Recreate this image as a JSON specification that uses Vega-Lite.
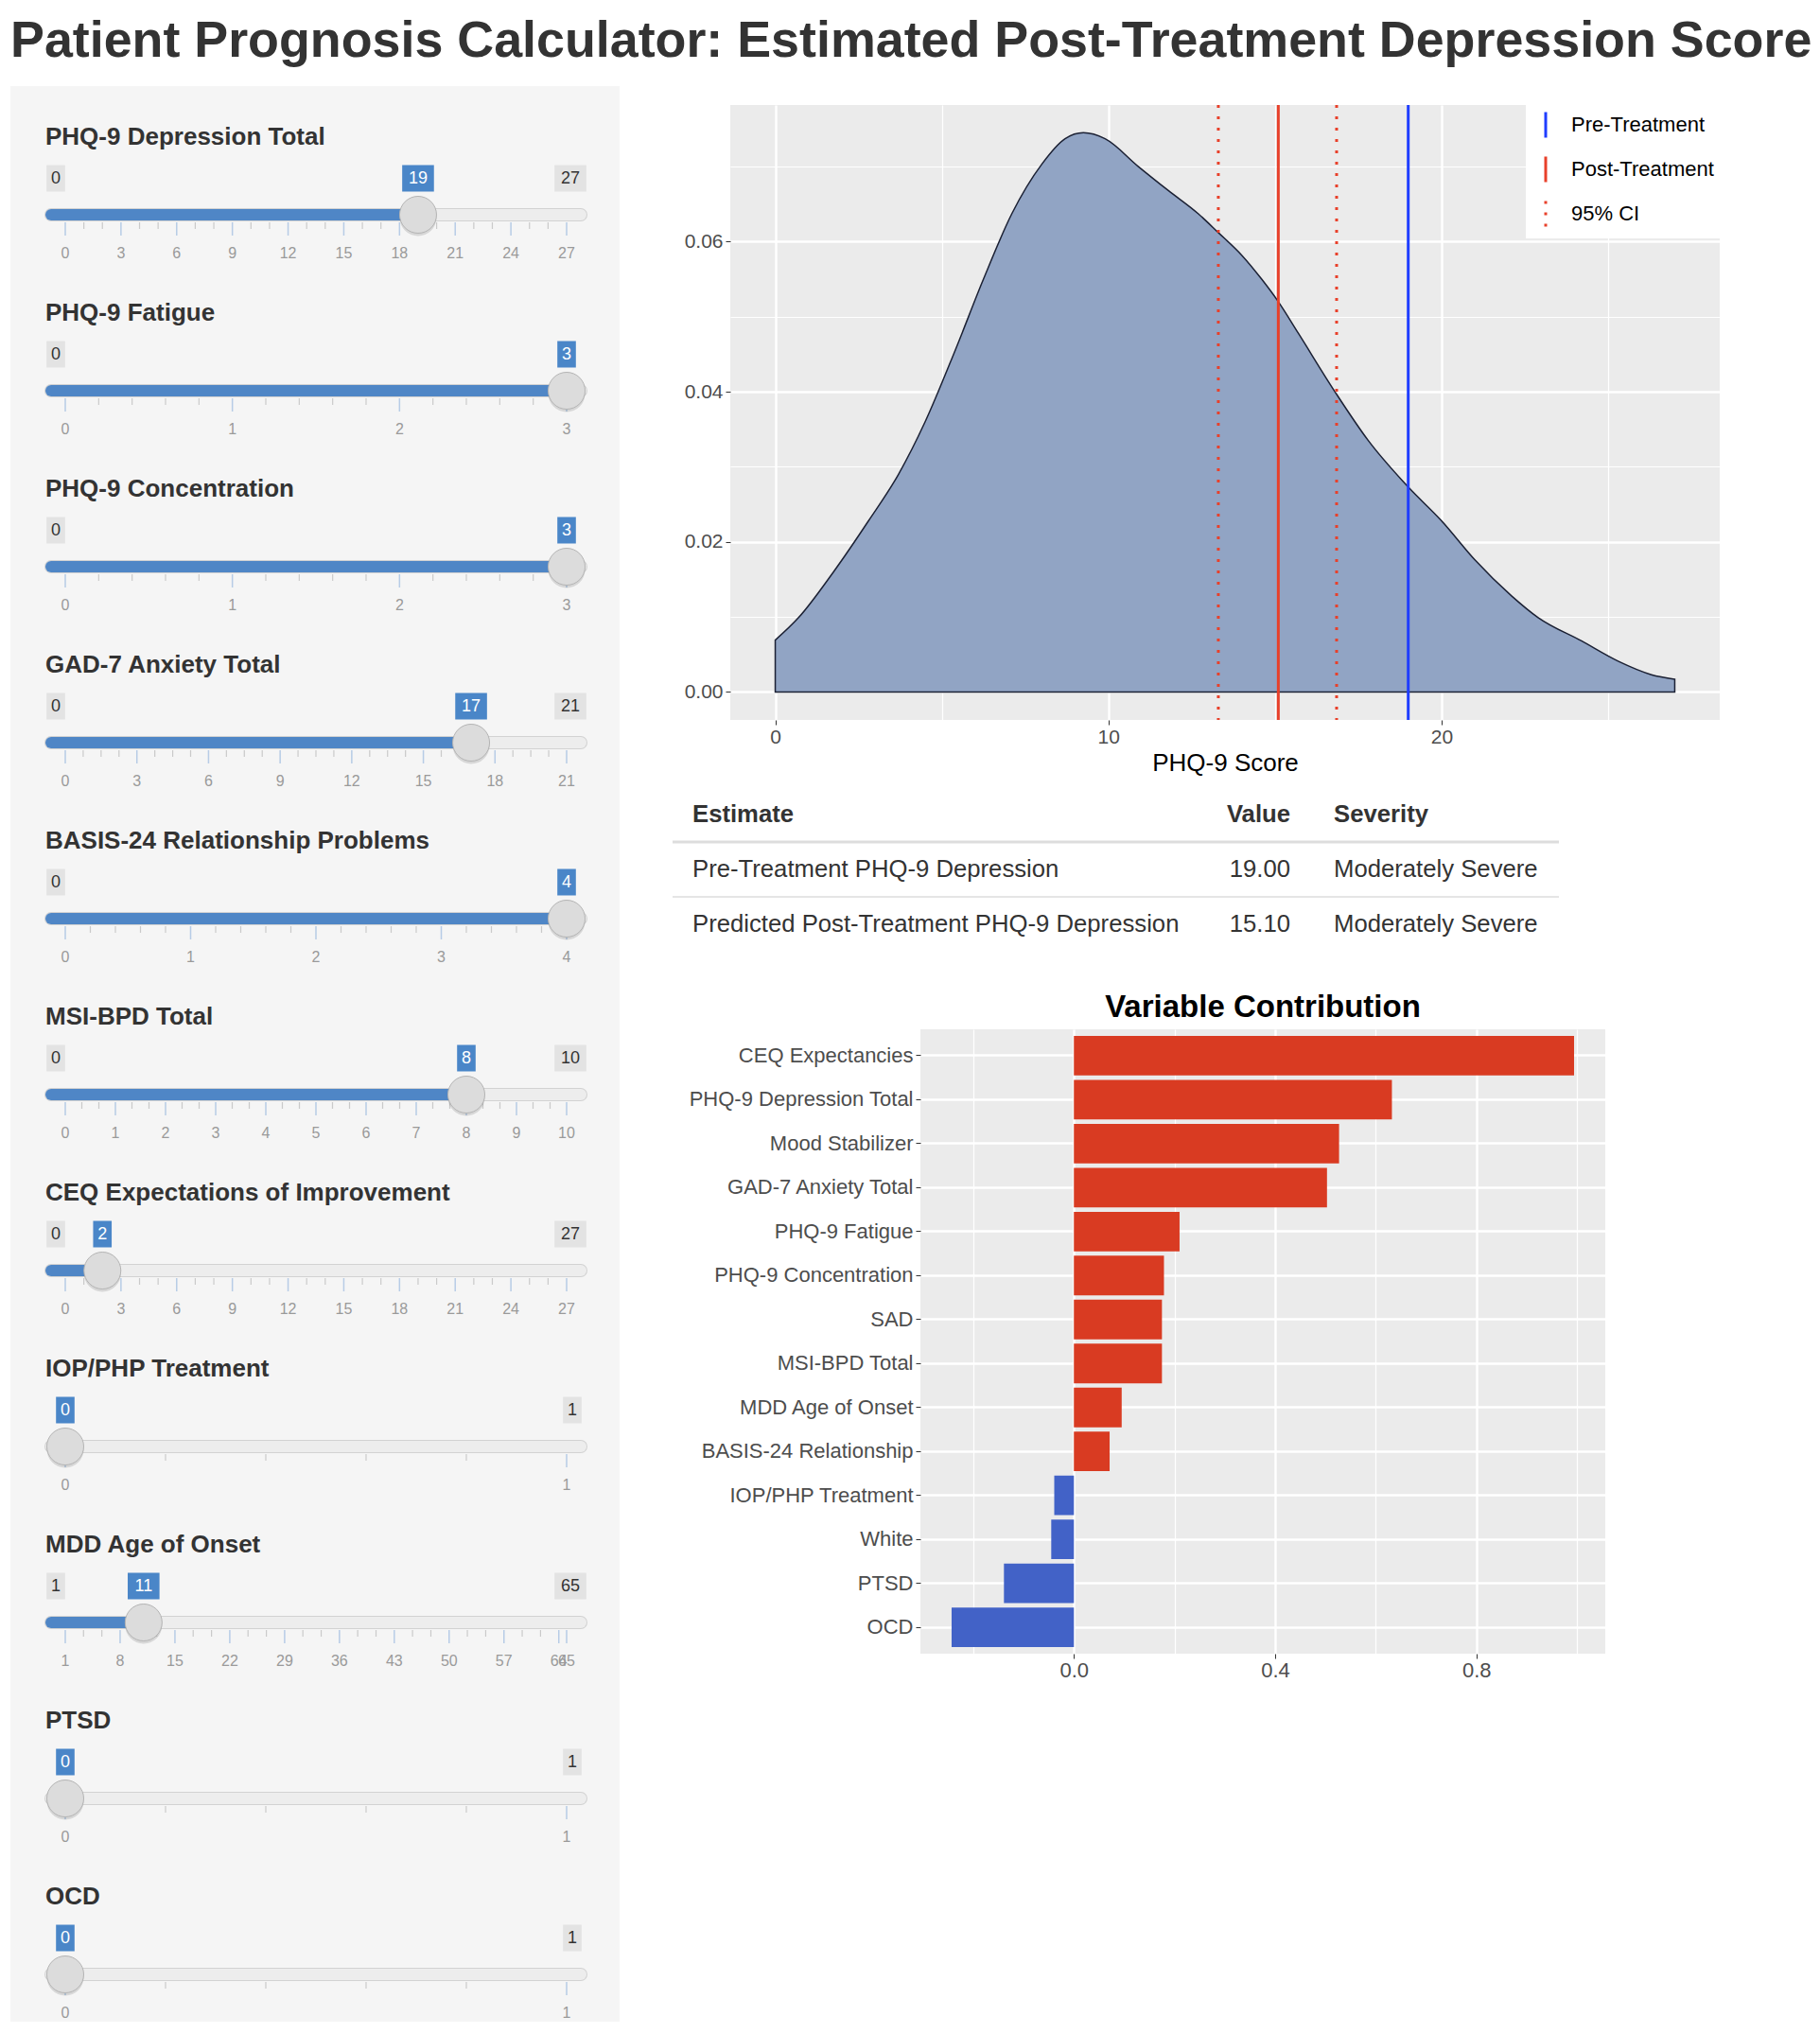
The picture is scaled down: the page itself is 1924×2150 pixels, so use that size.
{
  "$schema": "https://vega.github.io/schema/vega-lite/v6.json",
  "background": "white",
  "padding": {"left": 11, "top": 16, "right": 10, "bottom": 0},
  "title": {"text": "Patient Prognosis Calculator: Estimated Post-Treatment Depression Score", "anchor": "start", "frame": "group", "fontSize": 53.8, "fontWeight": "bold", "font": "Liberation Sans", "color": "#333333", "offset": 18},
  "config": {"view": {"stroke": null}, "font": "Liberation Sans"},
  "datasets": {
    "sl": [
      {"id": "s01", "k": "s", "s": "PHQ-9 Depression Total", "min": 0, "max": 27, "value": 19},
      {"id": "s02", "k": "s", "s": "PHQ-9 Fatigue", "min": 0, "max": 3, "value": 3},
      {"id": "s03", "k": "s", "s": "PHQ-9 Concentration", "min": 0, "max": 3, "value": 3},
      {"id": "s04", "k": "s", "s": "GAD-7 Anxiety Total", "min": 0, "max": 21, "value": 17},
      {"id": "s05", "k": "s", "s": "BASIS-24 Relationship Problems", "min": 0, "max": 4, "value": 4},
      {"id": "s06", "k": "s", "s": "MSI-BPD Total", "min": 0, "max": 10, "value": 8},
      {"id": "s07", "k": "s", "s": "CEQ Expectations of Improvement", "min": 0, "max": 27, "value": 2},
      {"id": "s08", "k": "s", "s": "IOP/PHP Treatment", "min": 0, "max": 1, "value": 0},
      {"id": "s09", "k": "s", "s": "MDD Age of Onset", "min": 1, "max": 65, "value": 11},
      {"id": "s10", "k": "s", "s": "PTSD", "min": 0, "max": 1, "value": 0},
      {"id": "s11", "k": "s", "s": "OCD", "min": 0, "max": 1, "value": 0},
      {"id":"s01","k":"M","v":0},{"id":"s01","k":"M","v":3},{"id":"s01","k":"M","v":6},{"id":"s01","k":"M","v":9},{"id":"s01","k":"M","v":12},{"id":"s01","k":"M","v":15},{"id":"s01","k":"M","v":18},{"id":"s01","k":"M","v":21},{"id":"s01","k":"M","v":24},{"id":"s01","k":"M","v":27},
      {"id":"s01","k":"m","v":1},{"id":"s01","k":"m","v":2},{"id":"s01","k":"m","v":4},{"id":"s01","k":"m","v":5},{"id":"s01","k":"m","v":7},{"id":"s01","k":"m","v":8},{"id":"s01","k":"m","v":10},{"id":"s01","k":"m","v":11},{"id":"s01","k":"m","v":13},{"id":"s01","k":"m","v":14},{"id":"s01","k":"m","v":16},{"id":"s01","k":"m","v":17},{"id":"s01","k":"m","v":19},{"id":"s01","k":"m","v":20},{"id":"s01","k":"m","v":22},{"id":"s01","k":"m","v":23},{"id":"s01","k":"m","v":25},{"id":"s01","k":"m","v":26},
      {"id":"s02","k":"M","v":0},{"id":"s02","k":"M","v":1},{"id":"s02","k":"M","v":2},{"id":"s02","k":"M","v":3},
      {"id":"s02","k":"m","v":0.2},{"id":"s02","k":"m","v":0.4},{"id":"s02","k":"m","v":0.6},{"id":"s02","k":"m","v":0.8},{"id":"s02","k":"m","v":1.2},{"id":"s02","k":"m","v":1.4},{"id":"s02","k":"m","v":1.6},{"id":"s02","k":"m","v":1.8},{"id":"s02","k":"m","v":2.2},{"id":"s02","k":"m","v":2.4},{"id":"s02","k":"m","v":2.6},{"id":"s02","k":"m","v":2.8},
      {"id":"s03","k":"M","v":0},{"id":"s03","k":"M","v":1},{"id":"s03","k":"M","v":2},{"id":"s03","k":"M","v":3},
      {"id":"s03","k":"m","v":0.2},{"id":"s03","k":"m","v":0.4},{"id":"s03","k":"m","v":0.6},{"id":"s03","k":"m","v":0.8},{"id":"s03","k":"m","v":1.2},{"id":"s03","k":"m","v":1.4},{"id":"s03","k":"m","v":1.6},{"id":"s03","k":"m","v":1.8},{"id":"s03","k":"m","v":2.2},{"id":"s03","k":"m","v":2.4},{"id":"s03","k":"m","v":2.6},{"id":"s03","k":"m","v":2.8},
      {"id":"s04","k":"M","v":0},{"id":"s04","k":"M","v":3},{"id":"s04","k":"M","v":6},{"id":"s04","k":"M","v":9},{"id":"s04","k":"M","v":12},{"id":"s04","k":"M","v":15},{"id":"s04","k":"M","v":18},{"id":"s04","k":"M","v":21},
      {"id":"s04","k":"m","v":0.75},{"id":"s04","k":"m","v":1.5},{"id":"s04","k":"m","v":2.25},{"id":"s04","k":"m","v":3.75},{"id":"s04","k":"m","v":4.5},{"id":"s04","k":"m","v":5.25},{"id":"s04","k":"m","v":6.75},{"id":"s04","k":"m","v":7.5},{"id":"s04","k":"m","v":8.25},{"id":"s04","k":"m","v":9.75},{"id":"s04","k":"m","v":10.5},{"id":"s04","k":"m","v":11.25},{"id":"s04","k":"m","v":12.75},{"id":"s04","k":"m","v":13.5},{"id":"s04","k":"m","v":14.25},{"id":"s04","k":"m","v":15.75},{"id":"s04","k":"m","v":16.5},{"id":"s04","k":"m","v":17.25},{"id":"s04","k":"m","v":18.75},{"id":"s04","k":"m","v":19.5},{"id":"s04","k":"m","v":20.25},
      {"id":"s05","k":"M","v":0},{"id":"s05","k":"M","v":1},{"id":"s05","k":"M","v":2},{"id":"s05","k":"M","v":3},{"id":"s05","k":"M","v":4},
      {"id":"s05","k":"m","v":0.2},{"id":"s05","k":"m","v":0.4},{"id":"s05","k":"m","v":0.6},{"id":"s05","k":"m","v":0.8},{"id":"s05","k":"m","v":1.2},{"id":"s05","k":"m","v":1.4},{"id":"s05","k":"m","v":1.6},{"id":"s05","k":"m","v":1.8},{"id":"s05","k":"m","v":2.2},{"id":"s05","k":"m","v":2.4},{"id":"s05","k":"m","v":2.6},{"id":"s05","k":"m","v":2.8},{"id":"s05","k":"m","v":3.2},{"id":"s05","k":"m","v":3.4},{"id":"s05","k":"m","v":3.6},{"id":"s05","k":"m","v":3.8},
      {"id":"s06","k":"M","v":0},{"id":"s06","k":"M","v":1},{"id":"s06","k":"M","v":2},{"id":"s06","k":"M","v":3},{"id":"s06","k":"M","v":4},{"id":"s06","k":"M","v":5},{"id":"s06","k":"M","v":6},{"id":"s06","k":"M","v":7},{"id":"s06","k":"M","v":8},{"id":"s06","k":"M","v":9},{"id":"s06","k":"M","v":10},
      {"id":"s06","k":"m","v":0.33},{"id":"s06","k":"m","v":0.67},{"id":"s06","k":"m","v":1.33},{"id":"s06","k":"m","v":1.67},{"id":"s06","k":"m","v":2.33},{"id":"s06","k":"m","v":2.67},{"id":"s06","k":"m","v":3.33},{"id":"s06","k":"m","v":3.67},{"id":"s06","k":"m","v":4.33},{"id":"s06","k":"m","v":4.67},{"id":"s06","k":"m","v":5.33},{"id":"s06","k":"m","v":5.67},{"id":"s06","k":"m","v":6.33},{"id":"s06","k":"m","v":6.67},{"id":"s06","k":"m","v":7.33},{"id":"s06","k":"m","v":7.67},{"id":"s06","k":"m","v":8.33},{"id":"s06","k":"m","v":8.67},{"id":"s06","k":"m","v":9.33},{"id":"s06","k":"m","v":9.67},
      {"id":"s07","k":"M","v":0},{"id":"s07","k":"M","v":3},{"id":"s07","k":"M","v":6},{"id":"s07","k":"M","v":9},{"id":"s07","k":"M","v":12},{"id":"s07","k":"M","v":15},{"id":"s07","k":"M","v":18},{"id":"s07","k":"M","v":21},{"id":"s07","k":"M","v":24},{"id":"s07","k":"M","v":27},
      {"id":"s07","k":"m","v":1},{"id":"s07","k":"m","v":2},{"id":"s07","k":"m","v":4},{"id":"s07","k":"m","v":5},{"id":"s07","k":"m","v":7},{"id":"s07","k":"m","v":8},{"id":"s07","k":"m","v":10},{"id":"s07","k":"m","v":11},{"id":"s07","k":"m","v":13},{"id":"s07","k":"m","v":14},{"id":"s07","k":"m","v":16},{"id":"s07","k":"m","v":17},{"id":"s07","k":"m","v":19},{"id":"s07","k":"m","v":20},{"id":"s07","k":"m","v":22},{"id":"s07","k":"m","v":23},{"id":"s07","k":"m","v":25},{"id":"s07","k":"m","v":26},
      {"id":"s08","k":"M","v":0},{"id":"s08","k":"M","v":1},
      {"id":"s08","k":"m","v":0.2},{"id":"s08","k":"m","v":0.4},{"id":"s08","k":"m","v":0.6},{"id":"s08","k":"m","v":0.8},
      {"id":"s09","k":"M","v":1},{"id":"s09","k":"M","v":8},{"id":"s09","k":"M","v":15},{"id":"s09","k":"M","v":22},{"id":"s09","k":"M","v":29},{"id":"s09","k":"M","v":36},{"id":"s09","k":"M","v":43},{"id":"s09","k":"M","v":50},{"id":"s09","k":"M","v":57},{"id":"s09","k":"M","v":64},{"id":"s09","k":"M","v":65},
      {"id":"s09","k":"m","v":3.33},{"id":"s09","k":"m","v":5.67},{"id":"s09","k":"m","v":10.33},{"id":"s09","k":"m","v":12.67},{"id":"s09","k":"m","v":17.33},{"id":"s09","k":"m","v":19.67},{"id":"s09","k":"m","v":24.33},{"id":"s09","k":"m","v":26.67},{"id":"s09","k":"m","v":31.33},{"id":"s09","k":"m","v":33.67},{"id":"s09","k":"m","v":38.33},{"id":"s09","k":"m","v":40.67},{"id":"s09","k":"m","v":45.33},{"id":"s09","k":"m","v":47.67},{"id":"s09","k":"m","v":52.33},{"id":"s09","k":"m","v":54.67},{"id":"s09","k":"m","v":59.33},{"id":"s09","k":"m","v":61.67},
      {"id":"s10","k":"M","v":0},{"id":"s10","k":"M","v":1},
      {"id":"s10","k":"m","v":0.2},{"id":"s10","k":"m","v":0.4},{"id":"s10","k":"m","v":0.6},{"id":"s10","k":"m","v":0.8},
      {"id":"s11","k":"M","v":0},{"id":"s11","k":"M","v":1},
      {"id":"s11","k":"m","v":0.2},{"id":"s11","k":"m","v":0.4},{"id":"s11","k":"m","v":0.6},{"id":"s11","k":"m","v":0.8}
    ],
    "dens": [
      {"x": 0, "d": 0.0069}, {"x": 0.7, "d": 0.0099}, {"x": 1.75, "d": 0.016}, {"x": 2.8, "d": 0.0228},
      {"x": 3.7, "d": 0.029}, {"x": 4.5, "d": 0.036}, {"x": 5.4, "d": 0.0455}, {"x": 6.25, "d": 0.055},
      {"x": 7.1, "d": 0.0637}, {"x": 8.0, "d": 0.0703}, {"x": 8.7, "d": 0.0737}, {"x": 9.25, "d": 0.0745},
      {"x": 9.9, "d": 0.0737}, {"x": 10.9, "d": 0.07}, {"x": 11.8, "d": 0.0668}, {"x": 12.7, "d": 0.0637},
      {"x": 13.3, "d": 0.0612}, {"x": 14.0, "d": 0.0582}, {"x": 14.6, "d": 0.055}, {"x": 15.1, "d": 0.052},
      {"x": 15.7, "d": 0.0478}, {"x": 16.8, "d": 0.04}, {"x": 17.8, "d": 0.0335}, {"x": 19.0, "d": 0.0273},
      {"x": 20.0, "d": 0.0228}, {"x": 21.0, "d": 0.0176}, {"x": 22.1, "d": 0.0128}, {"x": 22.9, "d": 0.0099},
      {"x": 24.2, "d": 0.0068}, {"x": 25.3, "d": 0.0041}, {"x": 26.3, "d": 0.0023}, {"x": 27.0, "d": 0.0017}
    ],
    "vlines": [
      {"line": "Pre-Treatment", "x": 19},
      {"line": "Post-Treatment", "x": 15.1},
      {"line": "95% CI", "x": 13.3},
      {"line": "95% CI", "x": 16.85}
    ],
    "tbl": [
      {"r": "h", "col": "Estimate", "t": "Estimate"},
      {"r": "h", "col": "Value", "t": "Value"},
      {"r": "h", "col": "Severity", "t": "Severity"},
      {"r": "1", "col": "Estimate", "t": "Pre-Treatment PHQ-9 Depression"},
      {"r": "1", "col": "Value", "t": "19.00"},
      {"r": "1", "col": "Severity", "t": "Moderately Severe"},
      {"r": "2", "col": "Estimate", "t": "Predicted Post-Treatment PHQ-9 Depression"},
      {"r": "2", "col": "Value", "t": "15.10"},
      {"r": "2", "col": "Severity", "t": "Moderately Severe"}
    ],
    "contrib": [
      {"v": "CEQ Expectancies", "c": 0.994},
      {"v": "PHQ-9 Depression Total", "c": 0.632},
      {"v": "Mood Stabilizer", "c": 0.527},
      {"v": "GAD-7 Anxiety Total", "c": 0.503},
      {"v": "PHQ-9 Fatigue", "c": 0.21},
      {"v": "PHQ-9 Concentration", "c": 0.179},
      {"v": "SAD", "c": 0.175},
      {"v": "MSI-BPD Total", "c": 0.175},
      {"v": "MDD Age of Onset", "c": 0.095},
      {"v": "BASIS-24 Relationship", "c": 0.071},
      {"v": "IOP/PHP Treatment", "c": -0.039},
      {"v": "White", "c": -0.045},
      {"v": "PTSD", "c": -0.139},
      {"v": "OCD", "c": -0.243}
    ]
  },
  "spacing": 53,
  "resolve": {"scale": {"color": "independent", "strokeDash": "independent"}, "legend": {"color": "independent", "strokeDash": "independent"}},
  "hconcat": [
    {
      "data": {"name": "sl"},
      "facet": {"row": {"field": "id", "type": "nominal", "header": {"labels": false, "title": null}}},
      "spacing": {"row": 0},
      "resolve": {"scale": {"x": "independent"}},
      "spec": {
        "width": 644,
        "height": 186,
        "view": {"fill": "#f5f5f5", "stroke": null},
        "layer": [
          {"transform": [{"filter": "datum.k == 's'"}],
           "mark": {"type": "rule", "strokeWidth": 14, "strokeCap": "round", "color": "#d2d2d2", "yOffset": 43, "xOffset": -15, "x2Offset": 15},
           "encoding": {"x": {"field": "min", "type": "quantitative", "scale": {"range": [58, 588], "zero": false, "nice": false}, "axis": null}, "x2": {"field": "max"}}},
          {"transform": [{"filter": "datum.k == 's'"}],
           "mark": {"type": "rule", "strokeWidth": 12, "strokeCap": "round", "color": "#ededed", "yOffset": 43, "xOffset": -15, "x2Offset": 15},
           "encoding": {"x": {"field": "min", "type": "quantitative"}, "x2": {"field": "max"}}},
          {"transform": [{"filter": "datum.k == 's' && datum.value > datum.min"}],
           "mark": {"type": "rule", "strokeWidth": 12, "strokeCap": "round", "color": "#4f86c6", "yOffset": 43, "xOffset": -15},
           "encoding": {"x": {"field": "min", "type": "quantitative"}, "x2": {"field": "value"}}},
          {"transform": [{"filter": "datum.k == 'M'"}],
           "mark": {"type": "tick", "size": 14, "thickness": 1.5, "color": "#9dbbe0", "yOffset": 58},
           "encoding": {"x": {"field": "v", "type": "quantitative"}}},
          {"transform": [{"filter": "datum.k == 'm'"}],
           "mark": {"type": "tick", "size": 7, "thickness": 1.2, "color": "#b8b8b8", "yOffset": 54.5},
           "encoding": {"x": {"field": "v", "type": "quantitative"}}},
          {"transform": [{"filter": "datum.k == 'M'"}],
           "mark": {"type": "text", "fontSize": 16, "color": "#9a9a9a", "yOffset": 84, "baseline": "middle"},
           "encoding": {"x": {"field": "v", "type": "quantitative"}, "text": {"field": "v", "type": "quantitative"}}},
          {"transform": [{"filter": "datum.k == 's'"}],
           "mark": {"type": "point", "shape": "circle", "size": 1521, "filled": true, "color": "#000000", "opacity": 0.12, "yOffset": 46},
           "encoding": {"x": {"field": "value", "type": "quantitative"}}},
          {"transform": [{"filter": "datum.k == 's'"}],
           "mark": {"type": "point", "shape": "circle", "size": 1521, "filled": true, "fill": "#dcdcdc", "stroke": "#b4b4b4", "strokeWidth": 1, "opacity": 1, "yOffset": 43},
           "encoding": {"x": {"field": "value", "type": "quantitative"}}},
          {"transform": [{"filter": "datum.k == 's' && datum.value >= 10"}],
           "mark": {"type": "point", "size": 784, "filled": true, "color": "#4a86c8", "opacity": 1, "yOffset": 4.5, "shape": "M-1.2,-1H1.2V1H-1.2Z"},
           "encoding": {"x": {"field": "value", "type": "quantitative"}}},
          {"transform": [{"filter": "datum.k == 's' && datum.value < 10"}],
           "mark": {"type": "point", "size": 784, "filled": true, "color": "#4a86c8", "opacity": 1, "yOffset": 4.5, "shape": "M-0.7,-1H0.7V1H-0.7Z"},
           "encoding": {"x": {"field": "value", "type": "quantitative"}}},
          {"transform": [{"filter": "datum.k == 's'"}],
           "mark": {"type": "text", "fontSize": 18, "color": "white", "yOffset": 4.5, "baseline": "middle"},
           "encoding": {"x": {"field": "value", "type": "quantitative"}, "text": {"field": "value", "type": "quantitative"}}},
          {"transform": [{"filter": "datum.k == 's' && datum.value != datum.min"}],
           "mark": {"type": "point", "size": 784, "filled": true, "color": "#e3e3e3", "opacity": 1, "yOffset": 4.5, "xOffset": -10, "shape": "M-0.7,-1H0.7V1H-0.7Z"},
           "encoding": {"x": {"field": "min", "type": "quantitative"}}},
          {"transform": [{"filter": "datum.k == 's' && datum.value != datum.min"}],
           "mark": {"type": "text", "fontSize": 18, "color": "#333333", "yOffset": 4.5, "xOffset": -10, "baseline": "middle"},
           "encoding": {"x": {"field": "min", "type": "quantitative"}, "text": {"field": "min", "type": "quantitative"}}},
          {"transform": [{"filter": "datum.k == 's' && datum.value != datum.max && datum.max >= 10"}],
           "mark": {"type": "point", "size": 784, "filled": true, "color": "#e3e3e3", "opacity": 1, "yOffset": 4.5, "xOffset": 4, "shape": "M-1.2,-1H1.2V1H-1.2Z"},
           "encoding": {"x": {"field": "max", "type": "quantitative"}}},
          {"transform": [{"filter": "datum.k == 's' && datum.value != datum.max && datum.max < 10"}],
           "mark": {"type": "point", "size": 784, "filled": true, "color": "#e3e3e3", "opacity": 1, "yOffset": 4.5, "xOffset": 6, "shape": "M-0.7,-1H0.7V1H-0.7Z"},
           "encoding": {"x": {"field": "max", "type": "quantitative"}}},
          {"transform": [{"filter": "datum.k == 's' && datum.value != datum.max && datum.max >= 10"}],
           "mark": {"type": "text", "fontSize": 18, "color": "#333333", "yOffset": 4.5, "xOffset": 4, "baseline": "middle"},
           "encoding": {"x": {"field": "max", "type": "quantitative"}, "text": {"field": "max", "type": "quantitative"}}},
          {"transform": [{"filter": "datum.k == 's' && datum.value != datum.max && datum.max < 10"}],
           "mark": {"type": "text", "fontSize": 18, "color": "#333333", "yOffset": 4.5, "xOffset": 6, "baseline": "middle"},
           "encoding": {"x": {"field": "max", "type": "quantitative"}, "text": {"field": "max", "type": "quantitative"}}},
          {"transform": [{"filter": "datum.k == 's'"}],
           "mark": {"type": "text", "fontSize": 26, "fontWeight": "bold", "color": "#333333", "align": "left", "baseline": "middle", "yOffset": -39, "xOffset": -21},
           "encoding": {"x": {"field": "min", "type": "quantitative"}, "text": {"field": "s"}}}
        ]
      }
    },
    {
      "spacing": 13,
      "resolve": {"scale": {"color": "independent", "strokeDash": "independent"}, "legend": {"color": "independent", "strokeDash": "independent"}},
      "vconcat": [
        {"width": 1, "height": 1, "data": {"values": [{}]}, "mark": {"type": "point", "opacity": 0}, "encoding": {}},
        {
          "spacing": 0,
          "resolve": {"scale": {"color": "independent", "strokeDash": "independent"}, "legend": {"color": "independent", "strokeDash": "independent"}},
          "hconcat": [
            {"width": 1, "height": 1, "data": {"values": [{}]}, "mark": {"type": "point", "opacity": 0}, "encoding": {}},
            {
              "width": 1046,
              "height": 650,
              "view": {"fill": "#ebebeb", "stroke": null},
              "layer": [
                {"data": {"name": "dens"},
                 "mark": {"type": "area", "interpolate": "monotone", "fill": "#91a4c4", "fillOpacity": 1, "stroke": "#1b2033", "strokeWidth": 1.5},
                 "encoding": {
                   "x": {"field": "x", "type": "quantitative", "title": "PHQ-9 Score",
                         "scale": {"domain": [-1.35, 28.35], "nice": false, "zero": false},
                         "axis": {"values": [0, 5, 10, 15, 20, 25], "labelExpr": "datum.value % 10 == 0 ? datum.label : ''", "grid": true, "gridColor": "white",
                                  "gridWidth": {"condition": {"test": "datum.value % 10 == 0", "value": 2.4}, "value": 1.2},
                                  "tickOpacity": {"condition": {"test": "datum.value % 10 == 0", "value": 1}, "value": 0},
                                  "domain": false, "tickColor": "#333333", "tickSize": 5, "labelColor": "#4d4d4d", "labelFontSize": 21, "labelPadding": 2,
                                  "titleFontSize": 26, "titleColor": "black", "titleFontWeight": "normal", "titlePadding": 4}},
                   "y": {"field": "d", "type": "quantitative", "title": null,
                         "scale": {"domain": [-0.00373, 0.0782], "nice": false, "zero": false},
                         "axis": {"values": [0, 0.01, 0.02, 0.03, 0.04, 0.05, 0.06, 0.07], "format": ".2f",
                                  "labelExpr": "round(datum.value * 100) % 2 == 0 ? datum.label : ''", "grid": true, "gridColor": "white",
                                  "gridWidth": {"condition": {"test": "round(datum.value * 100) % 2 == 0", "value": 2.4}, "value": 1.2},
                                  "tickOpacity": {"condition": {"test": "round(datum.value * 100) % 2 == 0", "value": 1}, "value": 0},
                                  "domain": false, "tickColor": "#333333", "tickSize": 5, "labelColor": "#4d4d4d", "labelFontSize": 21, "labelPadding": 3, "minExtent": 57}},
                   "y2": {"datum": 0}
                 }},
                {"data": {"name": "vlines"},
                 "mark": {"type": "rule", "strokeWidth": 3},
                 "encoding": {
                   "x": {"field": "x", "type": "quantitative"},
                   "color": {"field": "line", "type": "nominal",
                             "scale": {"domain": ["Pre-Treatment", "Post-Treatment", "95% CI"], "range": ["#1f3dff", "#e8402a", "#e8402a"]},
                             "legend": {"title": null, "orient": "top-right", "offset": 0, "fillColor": "white", "padding": 6, "symbolType": "M0,-1L0,1", "symbolSize": 729, "symbolStrokeWidth": 3, "labelFontSize": 22, "labelColor": "black", "labelOffset": 12, "rowPadding": 7}},
                   "strokeDash": {"field": "line", "type": "nominal",
                                  "scale": {"domain": ["Pre-Treatment", "Post-Treatment", "95% CI"], "range": [[1, 0], [1, 0], [3, 9]]},
                                  "legend": {"title": null, "orient": "top-right", "offset": 0, "fillColor": "white", "padding": 6, "symbolType": "M0,-1L0,1", "symbolSize": 729, "symbolStrokeWidth": 3, "labelFontSize": 22, "labelColor": "black", "labelOffset": 12, "rowPadding": 7}}
                 }}
              ]
            }
          ]
        },
        {
          "spacing": 43,
          "vconcat": [
            {
              "data": {"name": "tbl"},
              "width": 937, "height": 174,
              "encoding": {"y": {"field": "r", "type": "nominal", "scale": {"domain": ["h", "1", "2"], "paddingInner": 0, "paddingOuter": 0}, "axis": null}},
              "resolve": {"scale": {"x": "independent"}},
              "layer": [
                {"transform": [{"filter": "datum.r != 'h' && datum.col == 'Estimate'"}],
                 "mark": {"type": "rule", "color": "#dddddd"},
                 "encoding": {"y": {"field": "r", "type": "nominal", "bandPosition": 0}, "strokeWidth": {"condition": {"test": "datum.r == '1'", "value": 3}, "value": 1.5}}},
                {"transform": [{"filter": "datum.r == 'h' && datum.col == 'Estimate'"}],
                 "mark": {"type": "text", "align": "left", "baseline": "middle", "fontWeight": "bold", "fontSize": 25.7, "color": "#333333"},
                 "encoding": {"x": {"datum": 0, "type": "quantitative", "scale": {"domain": [0, 1], "range": [21, 937]}, "axis": null}, "text": {"field": "t"}}},
                {"transform": [{"filter": "datum.r != 'h' && datum.col == 'Estimate'"}],
                 "mark": {"type": "text", "align": "left", "baseline": "middle", "fontSize": 25.7, "color": "#333333"},
                 "encoding": {"x": {"datum": 0, "type": "quantitative", "scale": {"domain": [0, 1], "range": [21, 937]}, "axis": null}, "text": {"field": "t"}}},
                {"transform": [{"filter": "datum.r == 'h' && datum.col == 'Value'"}],
                 "mark": {"type": "text", "align": "right", "baseline": "middle", "fontWeight": "bold", "fontSize": 25.7, "color": "#333333"},
                 "encoding": {"x": {"datum": 1, "type": "quantitative", "scale": {"domain": [0, 1], "range": [0, 653]}, "axis": null}, "text": {"field": "t"}}},
                {"transform": [{"filter": "datum.r != 'h' && datum.col == 'Value'"}],
                 "mark": {"type": "text", "align": "right", "baseline": "middle", "fontSize": 25.7, "color": "#333333"},
                 "encoding": {"x": {"datum": 1, "type": "quantitative", "scale": {"domain": [0, 1], "range": [0, 653]}, "axis": null}, "text": {"field": "t"}}},
                {"transform": [{"filter": "datum.r == 'h' && datum.col == 'Severity'"}],
                 "mark": {"type": "text", "align": "left", "baseline": "middle", "fontWeight": "bold", "fontSize": 25.7, "color": "#333333"},
                 "encoding": {"x": {"datum": 0, "type": "quantitative", "scale": {"domain": [0, 1], "range": [699, 937]}, "axis": null}, "text": {"field": "t"}}},
                {"transform": [{"filter": "datum.r != 'h' && datum.col == 'Severity'"}],
                 "mark": {"type": "text", "align": "left", "baseline": "middle", "fontSize": 25.7, "color": "#333333"},
                 "encoding": {"x": {"datum": 0, "type": "quantitative", "scale": {"domain": [0, 1], "range": [699, 937]}, "axis": null}, "text": {"field": "t"}}}
              ]
            },
            {
              "spacing": 0,
              "hconcat": [
                {"width": 1, "height": 1, "data": {"values": [{}]}, "mark": {"type": "point", "opacity": 0}, "encoding": {}},
                {
                  "data": {"name": "contrib"},
                  "title": {"text": "Variable Contribution", "fontSize": 33, "fontWeight": "bold", "color": "black", "anchor": "middle", "offset": 6},
                  "width": 724,
                  "height": 660,
                  "view": {"fill": "#ebebeb", "stroke": null},
                  "mark": {"type": "bar"},
                  "encoding": {
                    "y": {"field": "v", "type": "nominal", "sort": null, "title": null,
                          "scale": {"paddingInner": 0.1, "paddingOuter": 0.15},
                          "axis": {"grid": true, "gridColor": "white", "gridWidth": 2.4, "domain": false, "tickColor": "#333333", "tickSize": 5, "labelColor": "#4d4d4d", "labelFontSize": 22, "labelPadding": 3, "labelLimit": 0, "minExtent": 258}},
                    "x": {"field": "c", "type": "quantitative", "title": null,
                          "scale": {"domain": [-0.305, 1.056], "nice": false, "zero": false},
                          "axis": {"values": [-0.2, 0, 0.2, 0.4, 0.6, 0.8, 1.0], "format": ".1f",
                                   "labelExpr": "(datum.value == 0 || datum.value == 0.4 || datum.value == 0.8) ? datum.label : ''",
                                   "grid": true, "gridColor": "white",
                                   "gridWidth": {"condition": {"test": "datum.value == 0 || datum.value == 0.4 || datum.value == 0.8", "value": 2.4}, "value": 1.2},
                                   "tickOpacity": {"condition": {"test": "datum.value == 0 || datum.value == 0.4 || datum.value == 0.8", "value": 1}, "value": 0},
                                   "domain": false, "tickColor": "#333333", "tickSize": 5, "labelColor": "#4d4d4d", "labelFontSize": 22, "labelPadding": 2}},
                    "x2": {"datum": 0},
                    "color": {"condition": {"test": "datum.c > 0", "value": "#d93b22"}, "value": "#4262c7"}
                  }
                }
              ]
            }
          ]
        }
      ]
    }
  ]
}
